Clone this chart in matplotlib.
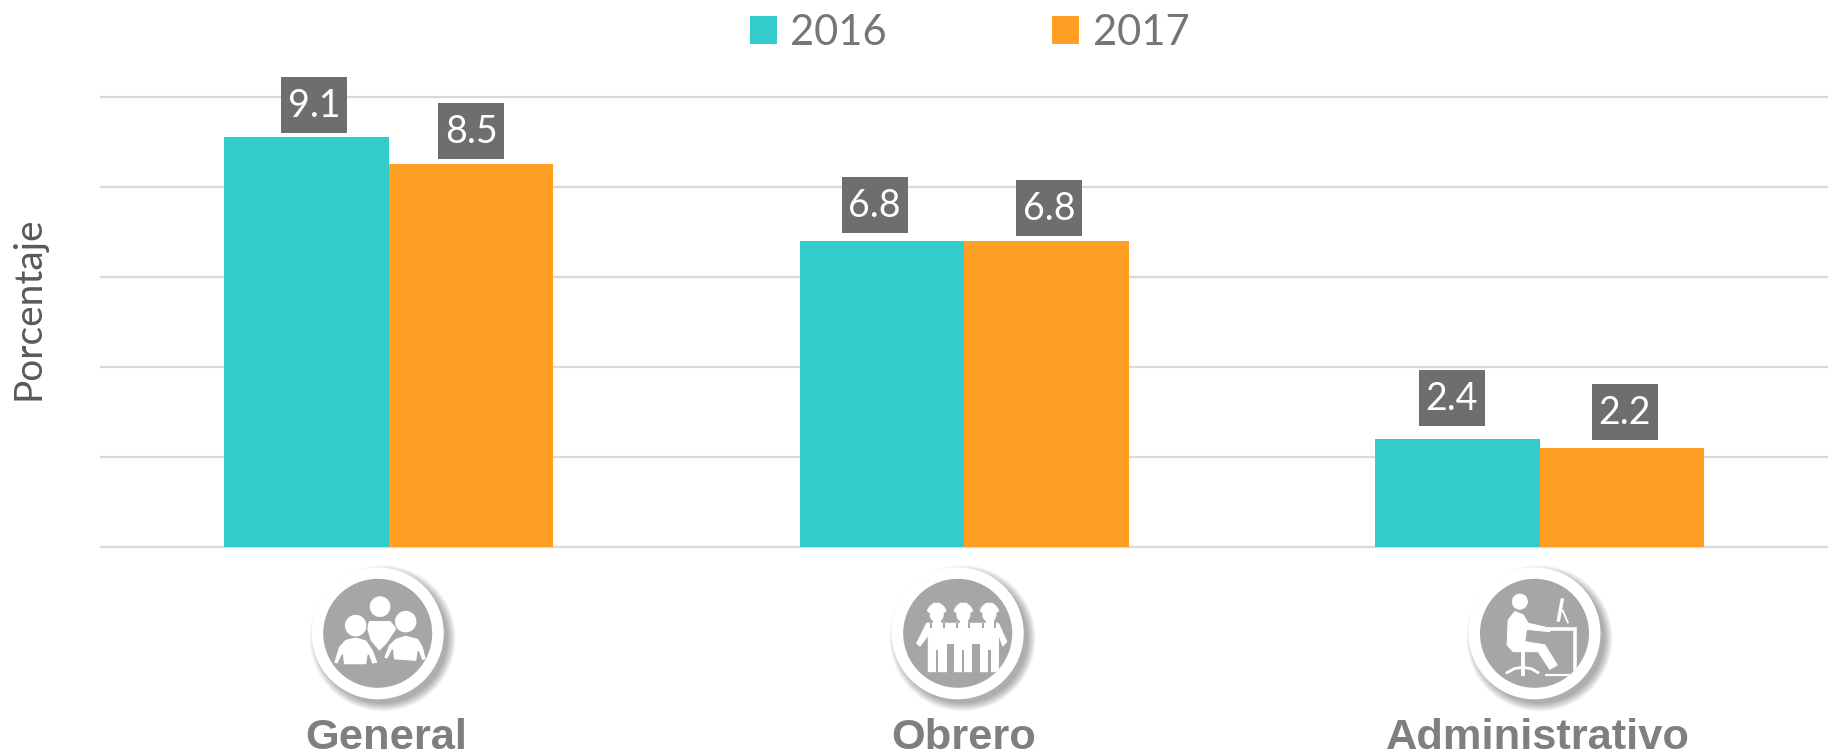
import matplotlib
matplotlib.use("Agg")
import matplotlib.pyplot as plt
from matplotlib.patches import Circle, Polygon, Rectangle

W, H = 1835, 754
categories = ["General", "Obrero", "Administrativo"]
series_names = ["2016", "2017"]
values_2016 = [9.1, 6.8, 2.4]
values_2017 = [8.5, 6.8, 2.2]
yticks = [0, 2, 4, 6, 8, 10]

TEAL = "#33CCCC"
ORANGE = "#FF9F24"
TEXT = "#757575"
BOX = "#6E6E6E"
GRID = "#D9D9D9"
ICON = "#A6A6A6"

fig = plt.figure(figsize=(W / 100, H / 100), dpi=100, facecolor="white")

# plot axes: pixel box 101..1827 x 96.7..546.7
L, R, T, B = 101, 1827, 96.7, 546.7
ax = fig.add_axes([L / W, 1 - B / H, (R - L) / W, (B - T) / H])
group = 575.5
bw = 164.5 / group
x0 = (388.5 - L) / group
xs = [x0 + i for i in range(len(categories))]
ax.set_xlim(0, (R - L) / group)
ax.set_ylim(0, 10)
ax.set_yticks(yticks)
ax.set_xticks([])
ax.tick_params(left=False, labelleft=False)
for s in ax.spines.values():
    s.set_visible(False)
ax.grid(axis="y", color=GRID, lw=1.6)
ax.set_axisbelow(True)
ax.patch.set_alpha(0)
b1 = ax.bar([x - bw / 2 for x in xs], values_2016, bw, color=TEAL, label=series_names[0], zorder=2)
b2 = ax.bar([x + bw / 2 for x in xs], values_2017, bw, color=ORANGE, label=series_names[1], zorder=2)
for ln in ax.get_ygridlines():
    ln.set_clip_on(False)

# pixel overlay
ov = fig.add_axes([0, 0, 1, 1], zorder=5)
ov.set_xlim(0, W)
ov.set_ylim(H, 0)
ov.axis("off")
ov.patch.set_alpha(0)

# value labels: box centre offsets (px) from each bar's top centre
offs = [(7.5, -32), (0.5, -33), (-7, -35.5), (3, -33), (-5.5, -41), (3, -36)]
bars = [b1[0], b2[0], b1[1], b2[1], b1[2], b2[2]]
vals = [values_2016[0], values_2017[0], values_2016[1], values_2017[1], values_2016[2], values_2017[2]]
for rect, v, (dx, dy) in zip(bars, vals, offs):
    px, py = ax.transData.transform((rect.get_x() + rect.get_width() / 2, rect.get_height()))
    cx, cy = px + dx, H - py + dy
    ov.add_patch(Rectangle((cx - 33, cy - 28), 66, 56, fc=BOX, ec="none"))
    ov.text(cx, cy + 1, f"{v:.1f}", color="white", fontsize=27, family="Lato", ha="center", va="center")


def P(cx, cy, pts):
    return [(cx + x / 3, cy + y / 3) for x, y in pts]


def badge(cx, cy):
    for i in range(10, 0, -1):
        ov.add_patch(Circle((cx + 5, cy + 5), 64 + i * 0.9, fc="#000000", ec="none", alpha=0.035))
    ov.add_patch(Circle((cx, cy), 66, fc="white", ec="none"))
    c = Circle((cx, cy), 54.5, fc=ICON, ec="none")
    ov.add_patch(c)
    return c


def poly(cx, cy, clip, pts, fc="white", ec="white", lw=0.8):
    p = Polygon(P(cx, cy, pts), closed=True, fc=fc, ec=ec, lw=lw, joinstyle="round")
    ov.add_patch(p)
    p.set_clip_path(clip)


def head(cx, cy, clip, x, y, r, ec="white", lw=0.5):
    c = Circle((cx + x / 3, cy + y / 3), r / 3, fc="white", ec=ec, lw=lw)
    ov.add_patch(c)
    c.set_clip_path(clip)


def stroke(cx, cy, clip, pts, lw):
    ln, = ov.plot(*zip(*P(cx, cy, pts)), color="white", lw=lw, solid_capstyle="butt", solid_joinstyle="miter")
    ln.set_clip_path(clip)


def people(cx, cy, clip):
    head(cx, cy, clip, 7, -80, 30)
    poly(cx, cy, clip, [(-25, -35), (37, -35), (55, -15), (25, 30), (5, 50), (-20, 20), (-30, -15)])
    for hd, body in [
        ((-66, -23), [(-133, 90), (-118, 40), (-98, 18), (-66, 10), (-33, 20), (-13, 50), (2, 90), (-18, 93),
                      (-28, 65), (-33, 95), (-103, 95), (-106, 65), (-120, 93)]),
        ((84, -35), [(17, 75), (32, 35), (52, 15), (84, 5), (122, 15), (137, 40), (147, 80), (132, 82),
                     (122, 55), (117, 85), (47, 80), (44, 50), (30, 78)]),
    ]:
        poly(cx, cy, clip, body, ec=ICON, lw=1.0)
        head(cx, cy, clip, hd[0], hd[1], 34, ec=ICON, lw=0.8)


def workers(cx, cy, clip):
    for hx in (-63, 17, 95):
        head(cx, cy, clip, hx, -55, 20)
        poly(cx, cy, clip, [(hx - 28, -68), (hx - 21, -80), (hx - 9, -90), (hx + 9, -90), (hx + 21, -80), (hx + 28, -68),
                            (hx + 22, -63), (hx - 22, -63)])
        poly(cx, cy, clip, [(hx - 10, -45), (hx + 10, -45), (hx + 10, -28), (hx - 10, -28)])
    poly(cx, cy, clip, [(-123, 30), (-93, -30), (122, -30), (147, 25), (135, 38), (122, 0), (122, 115),
                        (-88, 115), (-88, 5), (-113, 38)])
    for a, b, top in [(-33, -10, 32), (44, 67, 32), (-66, -60, 50), (12, 19, 50), (92, 99, 50)]:
        poly(cx, cy, clip, [(a, top), (b, top), (b, 118), (a, 118)], fc=ICON, ec=ICON, lw=0)
    for a in (-82, -45, -5, 30, 72, 110):
        poly(cx, cy, clip, [(a, -32), (a + 6, -32), (a + 6, -15), (a, -15)], fc=ICON, ec=ICON, lw=0)


def worker_desk(cx, cy, clip):
    head(cx, cy, clip, -44, -95, 23)
    poly(cx, cy, clip, [(-79, -40), (-59, -65), (-34, -55), (-19, -30), (46, -15), (46, -5), (-24, -12), (-29, 25),
                        (31, 35), (68, 95), (46, 108), (11, 55), (-64, 55), (-82, 35)])
    stroke(cx, cy, clip, [(-36, 55), (-36, 128)], 2.8)
    stroke(cx, cy, clip, [(-86, 120), (-60, 106), (-36, 102), (-10, 106), (14, 120)], 2)
    stroke(cx, cy, clip, [(41, -12), (121, -12), (121, 112)], 2.6)
    stroke(cx, cy, clip, [(84, -105), (71, -35)], 2.5)
    stroke(cx, cy, clip, [(84, -70), (101, -30)], 1.3)
    stroke(cx, cy, clip, [(31, 125), (106, 125)], 1.6)


for (cx, draw) in [(377.7, people), (957.7, workers), (1534.5, worker_desk)]:
    circle = badge(cx, 633.3)
    draw(cx, 633.3, circle)

# category labels
for name, cx in zip(categories, [386, 964, 1538]):
    ov.text(cx, 749, name, color="#7F7F7F", fontsize=31.2, fontweight="bold",
            family="Liberation Sans", ha="center", va="baseline")

# y label
ov.text(28, 308, "Porcentaje", rotation=90, color="#595959", fontsize=28, family="Lato",
        ha="center", va="center")

# legend
fig.legend(handles=[b1, b2], labels=series_names, ncol=2, loc="center",
           bbox_to_anchor=(969.5 / W, 1 - 33 / H), frameon=False,
           prop={"family": "Lato", "size": 30}, labelcolor=TEXT,
           handlelength=0.65, handleheight=0.65, handletextpad=0.33, columnspacing=3.96,
           borderpad=0, borderaxespad=0)

fig.savefig("out.png", dpi=100, facecolor="white")
